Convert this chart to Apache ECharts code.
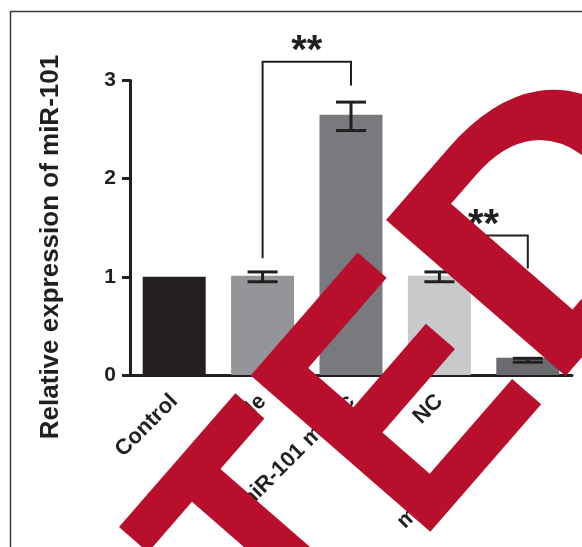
<!DOCTYPE html>
<html><head><meta charset="utf-8">
<script src="https://cdn.jsdelivr.net/npm/echarts@6/dist/echarts.min.js"></script>
<style>html,body{margin:0;padding:0;background:#fff}#c{width:582px;height:547px}</style>
</head><body><div id="c"></div>
<script>
// ---- data ----
const categories = ['Control', 'Scramble', 'miR-101 mimic', 'NC', 'miR-101 inhibitor'];
const values = [1.0, 1.01, 2.65, 1.01, 0.175];
const errLow = [null, 0.95, 2.49, 0.95, 0.13];
const errHigh = [null, 1.05, 2.78, 1.05, 0.17];
const barColors = ['#231f20', '#939598', '#797a7e', '#c8c9cb', '#6a6b6e'];
const yTickMin = 0, yTickMax = 3, yTickStep = 1;
const yTitle = 'Relative expression of miR-101';
// significance brackets
const sigFrom = [1, 3];
const sigTo = [2, 4];
const sigLevel = [3.19, 1.42];
const sigLeftEnd = [1.19, 1.19];
const sigRightEnd = [2.95, 1.085];
const sigLabel = ['**', '**'];
const stampHead = 'RETRACTE';
const stampTail = 'D';

const INK = '#231f20';
const FONT = '"Liberation Sans", Arial, Helvetica, sans-serif';

const errData = [];
categories.forEach((c, i) => { if (errLow[i] != null) errData.push([i, errLow[i], errHigh[i]]); });
const sigData = sigFrom.map((f, i) => [f, sigTo[i], sigLevel[i], sigLeftEnd[i], sigRightEnd[i]]);

// stamp geometry
const ROT = 49 * Math.PI / 180;
const SFONT = 331;
const joinX = 476.9, joinY = 332.7;

const stampStyle = (t, al) => ({text: t, fontSize: SFONT, fontWeight: 'bold', fontFamily: FONT, fill: '#b8102c',
  align: al, textAlign: al, verticalAlign: 'middle', textVerticalAlign: 'middle'});

const chart = echarts.init(document.getElementById('c'), null, {renderer: 'canvas'});
chart.setOption({
  animation: false,
  backgroundColor: '#fff',
  textStyle: {fontFamily: FONT},
  grid: {left: 130, right: 10, top: 80.5, bottom: 172, containLabel: false, outerBoundsMode: 'none'},
  xAxis: {
    type: 'category', data: categories,
    axisLine: {lineStyle: {color: INK, width: 3}},
    axisTick: {alignWithLabel: true, length: 8, lineStyle: {color: INK, width: 3}},
    axisLabel: {rotate: 45, interval: 0, fontSize: 22, fontWeight: 'bold', color: INK, margin: 23, fontFamily: FONT}
  },
  yAxis: {
    type: 'value', min: yTickMin, max: yTickMax, interval: yTickStep,
    axisLine: {show: true, lineStyle: {color: INK, width: 3}},
    axisTick: {show: true, length: 8, lineStyle: {color: INK, width: 3}},
    axisLabel: {fontSize: 21, fontWeight: 'bold', color: INK, margin: 14, fontFamily: FONT},
    splitLine: {show: false}
  },
  series: [
    {
      type: 'bar', barWidth: 63,
      data: values.map((v, i) => ({value: v, itemStyle: {color: barColors[i]}}))
    },
    {
      type: 'custom', clip: false, z: 5,
      data: errData,
      renderItem: function (params, api) {
        const x = api.value(0);
        const pLo = api.coord([x, api.value(1)]);
        const pHi = api.coord([x, api.value(2)]);
        const hw = 15;
        const st = {stroke: INK, lineWidth: 3};
        return {type: 'group', children: [
          {type: 'line', shape: {x1: pLo[0], y1: pLo[1], x2: pHi[0], y2: pHi[1]}, style: st},
          {type: 'line', shape: {x1: pLo[0] - hw, y1: pLo[1], x2: pLo[0] + hw, y2: pLo[1]}, style: st},
          {type: 'line', shape: {x1: pHi[0] - hw, y1: pHi[1], x2: pHi[0] + hw, y2: pHi[1]}, style: st}
        ]};
      }
    },
    {
      type: 'custom', clip: false, z: 5,
      data: sigData,
      renderItem: function (params, api) {
        const a = api.value(0), b = api.value(1), lv = api.value(2);
        const p1 = api.coord([a, api.value(3)]);
        const p2 = api.coord([a, lv]);
        const p3 = api.coord([b, lv]);
        const p4 = api.coord([b, api.value(4)]);
        return {type: 'group', children: [
          {type: 'polyline', shape: {points: [p1, p2, p3, p4]}, style: {stroke: INK, lineWidth: 2, fill: null}},
          {type: 'text', x: (p2[0] + p3[0]) / 2, y: p2[1] - 10,
           style: {text: sigLabel[params.dataIndex], fill: INK, fontSize: 40, fontWeight: 'bold', fontFamily: FONT,
                   align: 'center', textAlign: 'center', verticalAlign: 'middle', textVerticalAlign: 'middle'}}
        ]};
      }
    }
  ],
  graphic: [
    {type: 'rect', z: 1, shape: {x: 10.5, y: 11.5, width: 700, height: 700},
     style: {fill: null, stroke: '#3a3a3a', lineWidth: 1.5}},
    {type: 'text', z: 10, x: 51, y: 247, rotation: Math.PI / 2,
     style: {text: yTitle, fontSize: 26, fontWeight: 'bold', fontFamily: FONT, fill: INK,
             align: 'center', textAlign: 'center', verticalAlign: 'middle', textVerticalAlign: 'middle'}},
    {type: 'text', z: 100, x: joinX, y: joinY, rotation: ROT, scaleX: 0.91, scaleY: 1.045, style: stampStyle(stampHead, 'right')},
    {type: 'text', z: 100, x: joinX, y: joinY, rotation: ROT, scaleX: 1.15, scaleY: 1.045, style: stampStyle(stampTail, 'left')}
  ]
});
</script>
</body></html>
